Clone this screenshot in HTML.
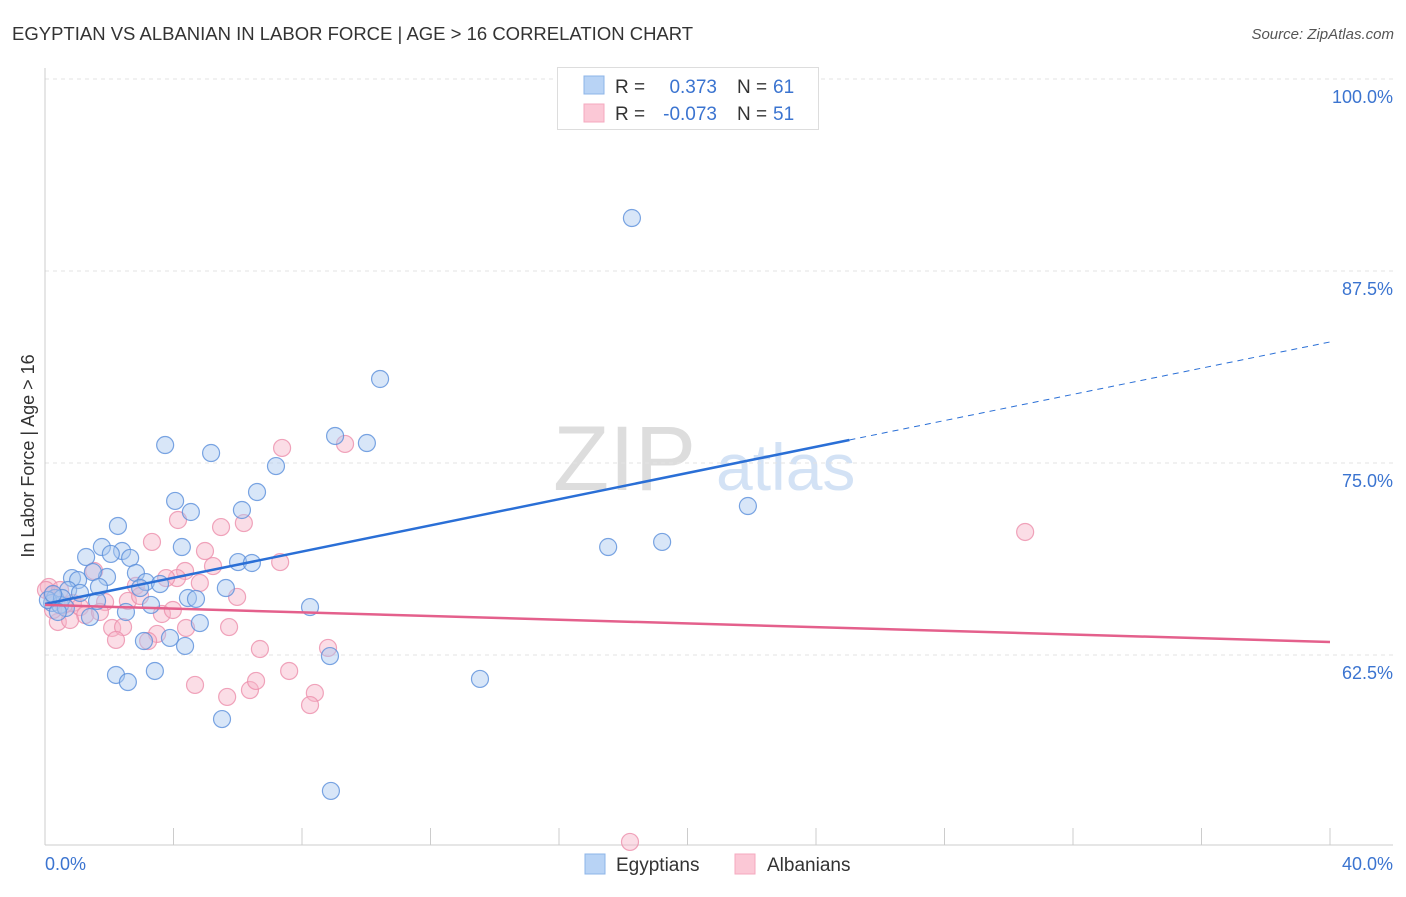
<!DOCTYPE html>
<html><head><meta charset="utf-8"><style>
body{margin:0;background:#fff;font-family:"Liberation Sans",sans-serif;}
svg text{font-family:"Liberation Sans",sans-serif;}
</style></head><body>
<svg id="c" width="1406" height="892" xmlns="http://www.w3.org/2000/svg">
<text x="12" y="40" font-size="18.5" fill="#333">EGYPTIAN VS ALBANIAN IN LABOR FORCE | AGE &gt; 16 CORRELATION CHART</text>
<text x="1394" y="39" font-size="15" fill="#555" font-style="italic" text-anchor="end">Source: ZipAtlas.com</text>
<text transform="translate(34,456) rotate(-90)" font-size="18" fill="#333" text-anchor="middle">In Labor Force | Age &gt; 16</text>
<g>
<text x="553" y="490" font-size="92" fill="#ddd" font-family="Liberation Serif">ZIP</text>
<text x="716" y="490" font-size="66" fill="#d3e2f5">atlas</text>
</g>
<g id="grid"></g><g id="axes"></g><g id="pts"></g><g id="trend"></g>
<g>
<rect x="557.5" y="67.5" width="261" height="62" fill="#fff" stroke="#ddd"/>
<rect x="584" y="76" width="20" height="18" fill="#b8d3f5" stroke="#8db4e8"/>
<rect x="584" y="104" width="20" height="18" fill="#fbc8d6" stroke="#f4a9bf"/>
<text x="615" y="93" font-size="19" fill="#333">R =</text>
<text x="717" y="93" font-size="19" fill="#3b74d0" text-anchor="end">0.373</text>
<text x="737" y="93" font-size="19" fill="#333">N =</text>
<text x="773" y="93" font-size="19" fill="#3b74d0">61</text>
<text x="615" y="120" font-size="19" fill="#333">R =</text>
<text x="717" y="120" font-size="19" fill="#3b74d0" text-anchor="end">-0.073</text>
<text x="737" y="120" font-size="19" fill="#333">N =</text>
<text x="773" y="120" font-size="19" fill="#3b74d0">51</text>
</g>
<g>
<rect x="585" y="854" width="20" height="20" fill="#b8d3f5" stroke="#8db4e8"/>
<text x="616" y="871" font-size="19" fill="#333">Egyptians</text>
<rect x="735" y="854" width="20" height="20" fill="#fbc8d6" stroke="#f4a9bf"/>
<text x="767" y="871" font-size="19" fill="#333">Albanians</text>
</g>
</svg>
<script>
const yTicks=[100,87.5,75,62.5];
const yTickLabels=["100.0%","87.5%","75.0%","62.5%"];
const xTicks=[4,8,12,16,20,24,28,32,36,40];
const egyX=[18.27,10.43,3.74,5.17,9.03,10.02,7.19,6.60,4.05,4.54,6.13,2.27,21.88,17.53,19.21,4.26,1.77,2.40,2.05,2.65,1.28,6.01,6.44,2.83,1.93,0.84,1.03,1.49,3.14,3.58,5.63,1.68,0.72,2.96,4.45,4.70,1.62,3.30,8.25,0.31,0.22,0.47,0.09,0.53,4.82,2.52,1.40,3.08,3.89,4.36,8.87,13.54,2.21,2.58,3.42,5.51,8.90,0.25,0.65,1.09,0.40];
const egyY=[90.95,80.47,76.17,75.65,76.76,76.3,74.8,73.11,72.53,71.81,71.94,70.9,72.2,69.53,69.86,69.53,69.53,69.27,69.08,68.82,68.88,68.55,68.49,67.84,67.58,67.51,67.38,67.9,67.25,67.12,66.86,66.93,66.73,66.86,66.21,66.15,66.02,65.76,65.62,66.21,65.89,65.76,66.08,66.21,64.58,65.3,64.97,63.41,63.61,63.09,62.43,60.94,61.2,60.74,61.46,58.33,53.65,66.47,65.56,66.54,65.3];
const albX=[18.21,30.51,7.38,9.34,4.14,6.19,5.48,3.33,4.98,7.32,5.23,4.36,4.11,3.77,2.83,4.82,5.98,1.53,2.58,1.87,0.87,1.09,0.12,0.22,0.40,1.25,2.09,2.43,3.64,3.98,5.73,3.49,4.39,6.69,8.81,2.21,3.21,4.67,5.67,6.38,6.57,7.60,8.40,8.25,0.25,0.59,0.78,1.71,2.96,0.03,0.47];
const albY=[50.33,70.51,75.98,76.24,71.29,71.09,70.83,69.86,69.27,68.55,68.29,67.97,67.51,67.51,67.0,67.19,66.28,67.97,66.02,65.95,65.89,65.62,66.93,66.41,64.65,65.1,64.26,64.32,65.17,65.43,64.32,63.87,64.26,62.89,62.96,63.48,63.41,60.55,59.77,60.22,60.81,61.46,60.03,59.24,65.43,65.76,64.78,65.3,66.34,66.73,66.73];
const egyTrend=[65.82,82.88]; const egySolidEnd=25.04;
const albTrend=[65.76,63.35];
const X=v=>45+v/40*1285, Y=v=>79+(100-v)*15.36;
const NS="http://www.w3.org/2000/svg";
function mk(p,t,a){const e=document.createElementNS(NS,t);for(const k in a)e.setAttribute(k,a[k]);p.appendChild(e);return e;}
const grid=document.getElementById('grid'),axes=document.getElementById('axes'),pts=document.getElementById('pts'),tr=document.getElementById('trend');
yTicks.forEach((v,i)=>{
 const l=mk(grid,'line',{x1:45,x2:1393,y1:Y(v),y2:Y(v),stroke:'#e3e3e3','stroke-dasharray':'4,4'});
 
 
 const t=mk(grid,'text',{x:1393,y:Y(v)+24,'font-size':18,fill:'#3b74d0','text-anchor':'end'});
 t.textContent=yTickLabels[i];
 
 
});
const ax=mk(axes,'line',{x1:45,x2:1393,y1:845,y2:845,stroke:'#ccc'});


const ay=mk(axes,'line',{x1:45,x2:45,y1:68,y2:845,stroke:'#ccc'});


xTicks.forEach(v=>{const t=mk(axes,'line',{x1:X(v),x2:X(v),y1:828,y2:845,stroke:'#ccc'});
 
 });
const x0=mk(axes,'text',{x:45,y:870,'font-size':18,fill:'#3b74d0'});x0.textContent='0.0%';


const x1=mk(axes,'text',{x:1393,y:870,'font-size':18,fill:'#3b74d0','text-anchor':'end'});x1.textContent='40.0%';


function dots(xs,ys,fill,stroke,name){xs.forEach((x,i)=>{const c=mk(pts,'circle',{cx:X(x),cy:Y(ys[i]),r:8.5,fill:fill,'fill-opacity':0.45,stroke:stroke,'stroke-opacity':0.8,'stroke-width':1.2});
 
 });}
dots(albX,albY,'#f7b3c7','#ec8fab','albanian-point');
dots(egyX,egyY,'#a9c8f0','#5a8fdb','egyptian-point');
const eAt=x=>egyTrend[0]+(egyTrend[1]-egyTrend[0])*x/40;
const l1=mk(tr,'line',{x1:X(0),y1:Y(egyTrend[0]),x2:X(egySolidEnd),y2:Y(eAt(egySolidEnd)),stroke:'#2a6fd6','stroke-width':2.5});


const l2=mk(tr,'line',{x1:X(egySolidEnd),y1:Y(eAt(egySolidEnd)),x2:X(40),y2:Y(egyTrend[1]),stroke:'#2a6fd6','stroke-width':1,'stroke-dasharray':'6,5'});


const l3=mk(tr,'line',{x1:X(0),y1:Y(albTrend[0]),x2:X(40),y2:Y(albTrend[1]),stroke:'#e4608c','stroke-width':2.5});


</script>
</body></html>
